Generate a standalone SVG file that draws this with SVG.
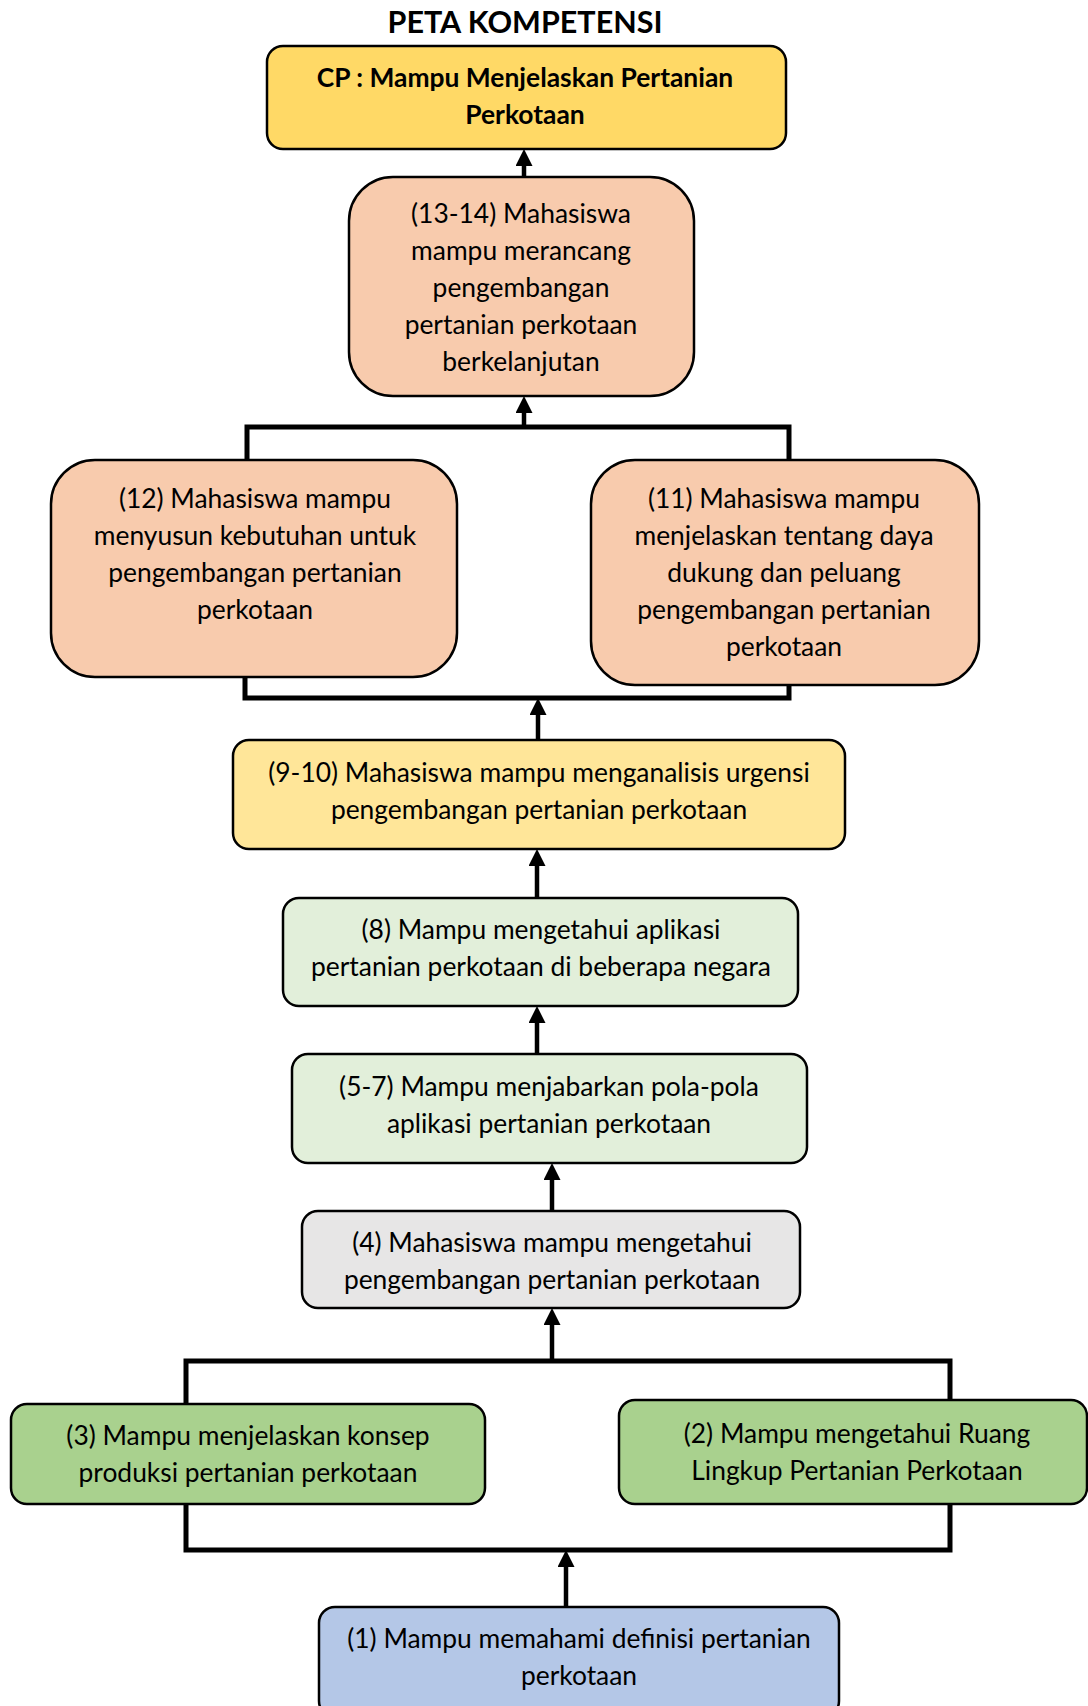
<svg xmlns="http://www.w3.org/2000/svg" width="1088" height="1706" viewBox="0 0 1088 1706">
  <defs>
    <marker id="arr" markerUnits="userSpaceOnUse" markerWidth="17" markerHeight="17" viewBox="0 0 17 17" refX="9" refY="8.5" orient="auto">
      <path d="M0,0 L17,8.5 L0,17 z" fill="#000"/>
    </marker>
    <style>
      .box { stroke: #000; stroke-width: 2.5; }
      .t { font-family: Lato, "Open Sans", "Liberation Sans", sans-serif; font-size: 26.4px; fill: #000; text-anchor: middle; }
      .b { font-weight: bold; }
      .ln { fill: none; stroke: #000; stroke-width: 5; }
      .ar { fill: none; stroke: #000; stroke-width: 4.5; marker-end: url(#arr); }
    </style>
  </defs>
  <rect width="1088" height="1706" fill="#fff"/>

  <text class="t b" x="525" y="33" style="font-size:30.5px">PETA KOMPETENSI</text>

  <g id="connectors">
    <path class="ar" d="M524,177 V157"/>
    <path class="ln" d="M247,460 V427 H789 V460"/>
    <path class="ar" d="M524,427 V404"/>
    <path class="ln" d="M245,677 V698 H789 V676"/>
    <path class="ar" d="M538,740 V706"/>
    <path class="ar" d="M537,898 V857"/>
    <path class="ar" d="M537,1054 V1014"/>
    <path class="ar" d="M552,1211 V1171"/>
    <path class="ln" d="M186,1404 V1361 H950 V1400"/>
    <path class="ar" d="M552,1361 V1316"/>
    <path class="ln" d="M186,1504 V1550 H950 V1504"/>
    <path class="ar" d="M566,1607 V1558"/>
  </g>

  <g id="cp">
    <rect class="box" x="267" y="46" width="519" height="103" rx="16" fill="#FFD966"/>
    <text class="t b" x="525" y="87">CP : Mampu Menjelaskan Pertanian</text>
    <text class="t b" x="525" y="124">Perkotaan</text>
  </g>

  <g id="n13-14">
    <rect class="box" x="349" y="177" width="345" height="219" rx="44" fill="#F8CBAD"/>
    <text class="t" x="521" y="223">(13-14) Mahasiswa</text>
    <text class="t" x="521" y="260">mampu merancang</text>
    <text class="t" x="521" y="297">pengembangan</text>
    <text class="t" x="521" y="334">pertanian perkotaan</text>
    <text class="t" x="521" y="371">berkelanjutan</text>
  </g>

  <g id="n12">
    <rect class="box" x="51" y="460" width="406" height="217" rx="44" fill="#F8CBAD"/>
    <text class="t" x="255" y="508">(12) Mahasiswa mampu</text>
    <text class="t" x="255" y="545">menyusun kebutuhan untuk</text>
    <text class="t" x="255" y="582">pengembangan pertanian</text>
    <text class="t" x="255" y="619">perkotaan</text>
  </g>

  <g id="n11">
    <rect class="box" x="591" y="460" width="388" height="225" rx="44" fill="#F8CBAD"/>
    <text class="t" x="784" y="508">(11) Mahasiswa mampu</text>
    <text class="t" x="784" y="545">menjelaskan tentang daya</text>
    <text class="t" x="784" y="582">dukung dan peluang</text>
    <text class="t" x="784" y="619">pengembangan pertanian</text>
    <text class="t" x="784" y="656">perkotaan</text>
  </g>

  <g id="n9-10">
    <rect class="box" x="233" y="740" width="612" height="109" rx="16" fill="#FFE699"/>
    <text class="t" x="539" y="782">(9-10) Mahasiswa mampu menganalisis urgensi</text>
    <text class="t" x="539" y="819">pengembangan pertanian perkotaan</text>
  </g>

  <g id="n8">
    <rect class="box" x="283" y="898" width="515" height="108" rx="16" fill="#E2EFDA"/>
    <text class="t" x="541" y="939">(8) Mampu mengetahui aplikasi</text>
    <text class="t" x="541" y="976">pertanian perkotaan di beberapa negara</text>
  </g>

  <g id="n5-7">
    <rect class="box" x="292" y="1054" width="515" height="109" rx="16" fill="#E2EFDA"/>
    <text class="t" x="549" y="1096">(5-7) Mampu menjabarkan pola-pola</text>
    <text class="t" x="549" y="1133">aplikasi pertanian perkotaan</text>
  </g>

  <g id="n4">
    <rect class="box" x="302" y="1211" width="498" height="97" rx="16" fill="#E7E6E6"/>
    <text class="t" x="552" y="1252">(4) Mahasiswa mampu mengetahui</text>
    <text class="t" x="552" y="1289">pengembangan pertanian perkotaan</text>
  </g>

  <g id="n3">
    <rect class="box" x="11" y="1404" width="474" height="100" rx="16" fill="#A9D18E"/>
    <text class="t" x="248" y="1445">(3) Mampu menjelaskan konsep</text>
    <text class="t" x="248" y="1482">produksi pertanian perkotaan</text>
  </g>

  <g id="n2">
    <rect class="box" x="619" y="1400" width="468" height="104" rx="16" fill="#A9D18E"/>
    <text class="t" x="857" y="1443">(2) Mampu mengetahui Ruang</text>
    <text class="t" x="857" y="1480">Lingkup Pertanian Perkotaan</text>
  </g>

  <g id="n1">
    <rect class="box" x="319" y="1607" width="520" height="110" rx="16" fill="#B4C7E7"/>
    <text class="t" x="579" y="1648">(1) Mampu memahami definisi pertanian</text>
    <text class="t" x="579" y="1685">perkotaan</text>
  </g>
</svg>
